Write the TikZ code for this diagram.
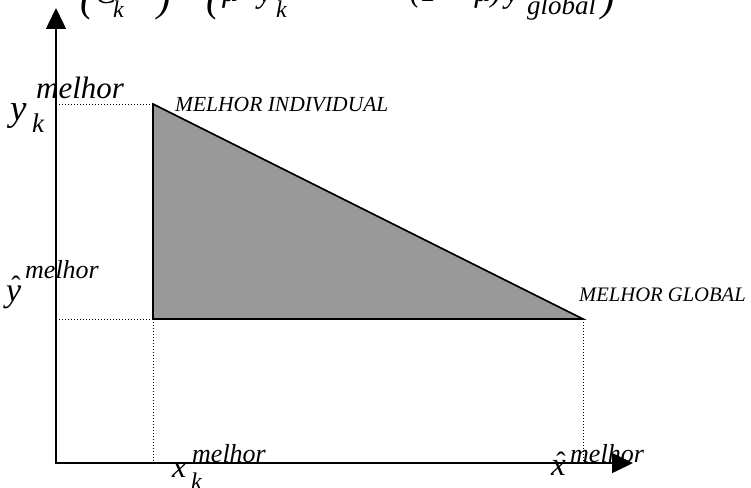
\documentclass[tikz,border=0pt]{standalone}
\usepackage{fontspec}
\setmainfont{Liberation Serif}
\usetikzlibrary{arrows.meta}
\definecolor{trifill}{RGB}{153,153,153}
\tikzset{
  axis/.style={line width=1.6pt, -{Triangle[length=21pt,width=20pt]}},
  guide/.style={line width=1pt, dotted},
  tri/.style={line width=1.6pt, fill=trifill, line join=miter},
  lbl/.style={inner sep=0pt, anchor=base west, font=\itshape},
  hat/.style={inner sep=0pt, anchor=north, font=\upshape},
}
\newcommand{\fs}[1]{\fontsize{#1}{#1}\selectfont}
\begin{document}
\begin{tikzpicture}[x=1pt,y=-1pt]
\useasboundingbox (0,0) rectangle (751,487);
% axes
\coordinate (O) at (56,463);
\coordinate (Ytip) at (56,8);
\coordinate (Xtip) at (633,463);
\coordinate (A) at (153,104);
\coordinate (B) at (153,319);
\coordinate (C) at (583,319);
\coordinate (Ay) at (56,104);
\coordinate (By) at (56,319);
\coordinate (Bx) at (153,463);
\coordinate (Cx) at (583,463);
\draw[tri] (A) -- (B) -- (C) -- cycle;
\draw[guide] (Ay) -- (A);
\draw[guide] (By) -- (B);
\draw[guide] (B) -- (Bx);
\draw[guide] (C) -- (Cx);
\draw[axis] (O) -- (Ytip);
\draw[axis] ([xshift=-0.8pt]O) -- (Xtip);
% labels
\node[lbl] (mi) at (175,111) {\fs{21.5}MELHOR INDIVIDUAL};
\node[lbl] (mg) at (579,301) {\fs{20.6}MELHOR GLOBAL};
% y_k^melhor
\node[lbl] (yk) at (10,120) {\fs{37}y};
\node[lbl] (yksup) at (36,98) {\fs{31}melhor};
\node[lbl] (yksub) at (32,132) {\fs{27}k};
% yhat^melhor
\node[lbl] (yh) at (6,301) {\fs{34}y};
\node[hat] (yhh) at (16,276) {\fs{28}ˆ};
\node[lbl] (yhsup) at (25,278) {\fs{26}melhor};
% x_k^melhor
\node[lbl] (xk) at (172,477) {\fs{32}x};
\node[lbl] (xksup) at (192,462) {\fs{26}melhor};
\node[lbl] (xksub) at (191,489) {\fs{24}k};
% xhat^melhor
\node[lbl] (xh) at (551,475) {\fs{33}x};
\node[hat] (xhh) at (561,452) {\fs{28}ˆ};
\node[lbl] (xhsup) at (570,462) {\fs{26}melhor};
% cropped formula at top
\node[lbl] (f1) at (80,12) {\fs{40}(};
\node[lbl] (f2) at (95,4) {\fs{32}C};
\node[lbl] (f3) at (113,18) {\fs{24}k};
\node[lbl] (f4) at (157,12) {\fs{40})};
\node[lbl] (f5) at (178,4) {\fs{32}=};
\node[lbl] (f6) at (206,12) {\fs{40}(};
\node[lbl] (f7) at (222,2) {\fs{32}μ·};
\node[lbl] (f8) at (258,3) {\fs{32}y};
\node[lbl] (f9) at (276,18) {\fs{24}k};
\node[lbl] (f10) at (292,-8) {\fs{26}melhor};
\node[lbl] (f11) at (372,2) {\fs{32}+};
\node[lbl] (f12) at (410,2) {\fs{32}(1 − μ)·};
\node[lbl] (f13) at (505,3) {\fs{32}y};
\node[lbl] (f14) at (527,15) {\fs{27}global};
\node[lbl] (f15) at (601,12) {\fs{40})};
\end{tikzpicture}
\end{document}
